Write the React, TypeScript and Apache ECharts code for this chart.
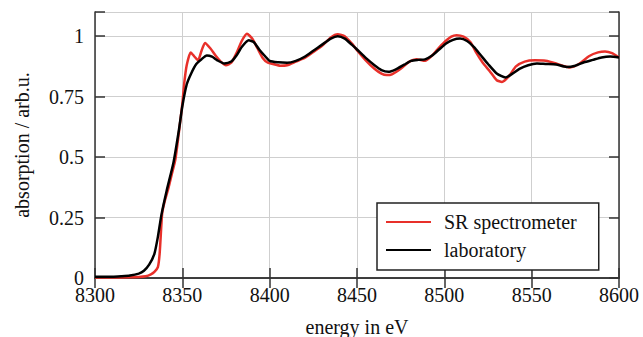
import React, { useEffect, useRef } from "react";
import * as echarts from "echarts";

const srEnergy = [
  8300, 8310, 8320, 8325, 8329, 8332, 8334, 8336, 8337, 8338, 8338.5, 8340, 8342, 8344, 8346, 8348, 8350, 8351,
  8352.5, 8354.8, 8357, 8359, 8361, 8363, 8366, 8369, 8372, 8375, 8378, 8381, 8384, 8387, 8390, 8393, 8396, 8399,
  8402, 8406, 8410, 8415, 8420, 8425, 8430, 8435, 8439, 8443, 8447, 8450, 8455, 8460, 8464, 8467, 8470, 8475,
  8480, 8484, 8489, 8493, 8496, 8500, 8504, 8507, 8511, 8515, 8518, 8522, 8526, 8530, 8533, 8537, 8541, 8546,
  8552, 8558, 8564, 8568, 8572, 8577, 8583, 8588, 8592, 8596, 8600,
];
const srValues = [
  0.002, 0.002, 0.003, 0.004, 0.007, 0.015, 0.025, 0.045, 0.1, 0.22, 0.27, 0.32, 0.37, 0.43, 0.49, 0.6, 0.72, 0.8,
  0.88, 0.933, 0.915, 0.9, 0.94, 0.972, 0.95, 0.92, 0.895, 0.88, 0.89, 0.93, 0.98, 1.01, 0.99, 0.95, 0.91, 0.89,
  0.885, 0.878, 0.88, 0.895, 0.91, 0.935, 0.96, 0.995, 1.008, 1.0, 0.97, 0.942, 0.9, 0.865, 0.845, 0.839, 0.842,
  0.865, 0.895, 0.905, 0.898, 0.92, 0.945, 0.975, 0.998, 1.004, 0.998, 0.975, 0.935, 0.89, 0.855, 0.818, 0.811,
  0.835, 0.875, 0.895, 0.9, 0.898, 0.887, 0.877, 0.871, 0.885, 0.918, 0.933, 0.937, 0.93, 0.912,
];

const labEnergy = [
  8300, 8310, 8315, 8320, 8325, 8328, 8331, 8334, 8336, 8338, 8341, 8345, 8348, 8350, 8352.5, 8355, 8358, 8361,
  8364, 8367, 8370, 8374, 8378, 8381, 8384, 8388, 8391, 8394, 8397, 8400, 8405, 8410, 8415, 8420, 8425, 8430,
  8435, 8439, 8443, 8447, 8450, 8455, 8460, 8464, 8468, 8472, 8477, 8481, 8485, 8489, 8493, 8497, 8501, 8505,
  8509, 8513, 8517, 8521, 8525, 8530, 8535, 8539, 8543, 8548, 8553, 8558, 8564, 8570, 8575, 8580, 8585, 8590,
  8595, 8600,
];
const labValues = [
  0.005, 0.005, 0.007, 0.01, 0.018, 0.03, 0.055, 0.1, 0.17, 0.26, 0.36, 0.48, 0.61, 0.71, 0.8, 0.845, 0.885,
  0.905, 0.92, 0.915, 0.9, 0.887, 0.895, 0.92, 0.955, 0.983, 0.975, 0.945, 0.92, 0.898, 0.892, 0.89, 0.898, 0.915,
  0.94, 0.965, 0.99, 1.0, 0.99, 0.965, 0.945, 0.91, 0.88, 0.86, 0.853, 0.862, 0.882, 0.898, 0.902, 0.904, 0.92,
  0.945, 0.97, 0.985, 0.99, 0.98, 0.955, 0.92, 0.885, 0.846, 0.829, 0.845, 0.865, 0.88, 0.887, 0.885, 0.883,
  0.873, 0.878, 0.892, 0.902, 0.912, 0.916, 0.912,
];

const seriesNames = ["SR spectrometer", "laboratory"];
const xMin = 8300;
const xMax = 8600;
const xStep = 50;
const yMin = 0;
const yMax = 1.1;
const yStep = 0.25;

const FONT = "Liberation Serif";

export default function App() {
  const ref = useRef<HTMLDivElement>(null);
  useEffect(() => {
    if (!ref.current) return;
    const chart = echarts.init(ref.current, undefined, { renderer: "svg" });
    const axisLine = { show: true, lineStyle: { color: "#333", width: 1.5 } };
    const tick = { show: true, inside: true, length: 10, lineStyle: { color: "#333", width: 1.5 } };
    const yFmt = (v: number) => (v > 1.05 ? "" : String(Math.round(v * 100) / 100));
    const xFmt = (v: number) => String(v);
    chart.setOption({
      animation: false,
      backgroundColor: "#fff",
      textStyle: { fontFamily: FONT },
      grid: { left: 95, right: 24, top: 12, bottom: 59, containLabel: false, outerBoundsMode: "none" },
      legend: {
        orient: "vertical",
        left: 377,
        top: 203,
        padding: [9, 22, 10, 8],
        itemWidth: 45,
        itemHeight: 20,
        itemGap: 8,
        borderColor: "#222",
        borderWidth: 1.5,
        backgroundColor: "#fff",
        borderRadius: 0,
        itemStyle: { opacity: 0 },
        textStyle: { fontFamily: FONT, fontSize: 20, color: "#111", padding: [0, 0, 0, 8] },
        data: seriesNames,
      },
      xAxis: [
        {
          type: "value",
          min: xMin,
          max: xMax,
          interval: xStep,
          position: "bottom",
          name: "energy in eV",
          nameLocation: "middle",
          nameGap: 39,
          nameTextStyle: { fontFamily: FONT, fontSize: 20, color: "#111" },
          axisLine,
          axisTick: tick,
          axisLabel: { fontFamily: FONT, fontSize: 20, color: "#111", margin: 7, formatter: xFmt },
          splitLine: { show: true, lineStyle: { color: "#cfcfcf", width: 1 } },
        },
        {
          type: "value",
          min: xMin,
          max: xMax,
          interval: xStep,
          position: "top",
          axisLine,
          axisTick: tick,
          axisLabel: { show: false },
          splitLine: { show: false },
        },
      ],
      yAxis: [
        {
          type: "value",
          min: yMin,
          max: yMax,
          interval: yStep,
          position: "left",
          name: "absorption / arb.u.",
          nameLocation: "middle",
          nameGap: 63,
          nameTextStyle: { fontFamily: FONT, fontSize: 20, color: "#111" },
          axisLine,
          axisTick: tick,
          axisLabel: { fontFamily: FONT, fontSize: 20, color: "#111", margin: 11, formatter: yFmt },
          splitLine: { show: true, lineStyle: { color: "#cfcfcf", width: 1 } },
        },
        {
          type: "value",
          min: yMin,
          max: yMax,
          interval: yStep,
          position: "right",
          axisLine,
          axisTick: tick,
          axisLabel: { show: false },
          splitLine: { show: false },
        },
      ],
      series: [
        {
          name: seriesNames[0],
          type: "line",
          xAxisIndex: 0,
          yAxisIndex: 0,
          data: srEnergy.map((e, i) => [e, srValues[i]]),
          symbol: "none",
          smooth: 0.2,
          color: "#e8302a",
          lineStyle: { color: "#e8302a", width: 2.5 },
        },
        {
          name: seriesNames[1],
          type: "line",
          xAxisIndex: 0,
          yAxisIndex: 0,
          data: labEnergy.map((e, i) => [e, labValues[i]]),
          symbol: "none",
          smooth: 0.2,
          color: "#000",
          lineStyle: { color: "#000", width: 2.5 },
        },
      ],
    });
    return () => chart.dispose();
  }, []);
  return (
    <div
      ref={ref}
      style={{ position: "fixed", left: 0, top: 0, width: 643, height: 337, background: "#fff" }}
    />
  );
}
